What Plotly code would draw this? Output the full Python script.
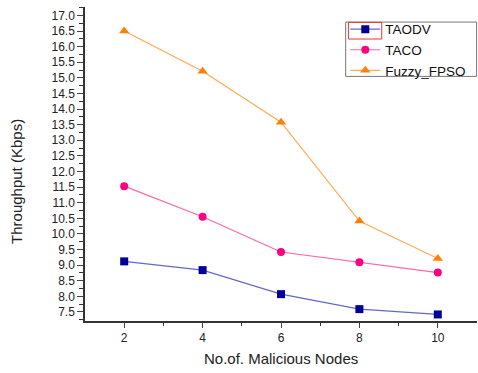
import plotly.graph_objects as go

nodes = [2, 4, 6, 8, 10]
taodv = [9.12, 8.84, 8.07, 7.59, 7.42]
taco = [11.53, 10.55, 9.42, 9.09, 8.76]
fuzzy_fpso = [16.5, 15.21, 13.58, 10.41, 9.21]

y_ticks = [7.5 + 0.5 * i for i in range(20)]

fig = go.Figure()
fig.add_trace(go.Scatter(x=nodes, y=taodv, name="TAODV", mode="lines+markers",
                         line=dict(color="#6666CC", width=1.2),
                         marker=dict(symbol="square", size=8, color="#000099")))
fig.add_trace(go.Scatter(x=nodes, y=taco, name="TACO", mode="lines+markers",
                         line=dict(color="#FF66AA", width=1.2),
                         marker=dict(symbol="circle", size=8, color="#FF0080")))
fig.add_trace(go.Scatter(x=nodes, y=fuzzy_fpso, name="Fuzzy_FPSO", mode="lines+markers",
                         line=dict(color="#FFAA55", width=1.2),
                         marker=dict(symbol="triangle-up", size=9, color="#FF8000")))

font = "Liberation Sans, Arial, sans-serif"
fig.update_layout(
    width=478, height=373,
    margin=dict(l=85, r=1, t=7, b=52),
    paper_bgcolor="white", plot_bgcolor="white",
    font=dict(family=font, size=12, color="#222222"),
    showlegend=True,
    legend=dict(x=0.664, y=0.978, xanchor="left", yanchor="top",
                borderwidth=0, bgcolor="rgba(0,0,0,0)",
                font=dict(size=13.5, color="#111111"),
                tracegroupgap=0, itemwidth=30),
    xaxis=dict(range=[1, 11], tickvals=nodes, ticks="outside", ticklen=5,
               showline=True, linecolor="#333333", linewidth=1.5,
               showgrid=False, zeroline=False,
               minor=dict(tickvals=[3, 5, 7, 9], ticks="outside", ticklen=3, tickcolor="#333333"),
               tickfont=dict(size=12)),
    yaxis=dict(range=[7.21, 17.27], tickvals=y_ticks, tickformat=".1f",
               ticks="outside", ticklen=6,
               showline=True, linecolor="#333333", linewidth=1.5,
               showgrid=False, zeroline=False,
               minor=dict(dtick=0.25, tick0=7.25, ticks="outside", ticklen=4, tickcolor="#333333"),
               tickfont=dict(size=12)),
    annotations=[
        dict(text="No.of. Malicious Nodes", xref="paper", yref="paper",
             x=0.5, y=-0.118, xanchor="center", yanchor="middle",
             showarrow=False, font=dict(size=15, color="#222222")),
        dict(text="Throughput (Kbps)", xref="paper", yref="paper",
             x=-0.1735, y=0.446, xanchor="center", yanchor="middle",
             textangle=-90, showarrow=False, font=dict(size=15, color="#222222")),
    ],
)

# legend frame
fig.add_shape(type="rect", xref="paper", yref="paper",
              x0=0.665, x1=0.999, y0=0.779, y1=0.952,
              line=dict(color="#777777", width=1), fillcolor="rgba(0,0,0,0)")
# highlight frame around the first legend entry
fig.add_shape(type="rect", xref="paper", yref="paper",
              x0=0.672, x1=0.757, y0=0.898, y1=0.951,
              line=dict(color="#EE3333", width=1), fillcolor="rgba(0,0,0,0)")

fig.write_html("out.html")
